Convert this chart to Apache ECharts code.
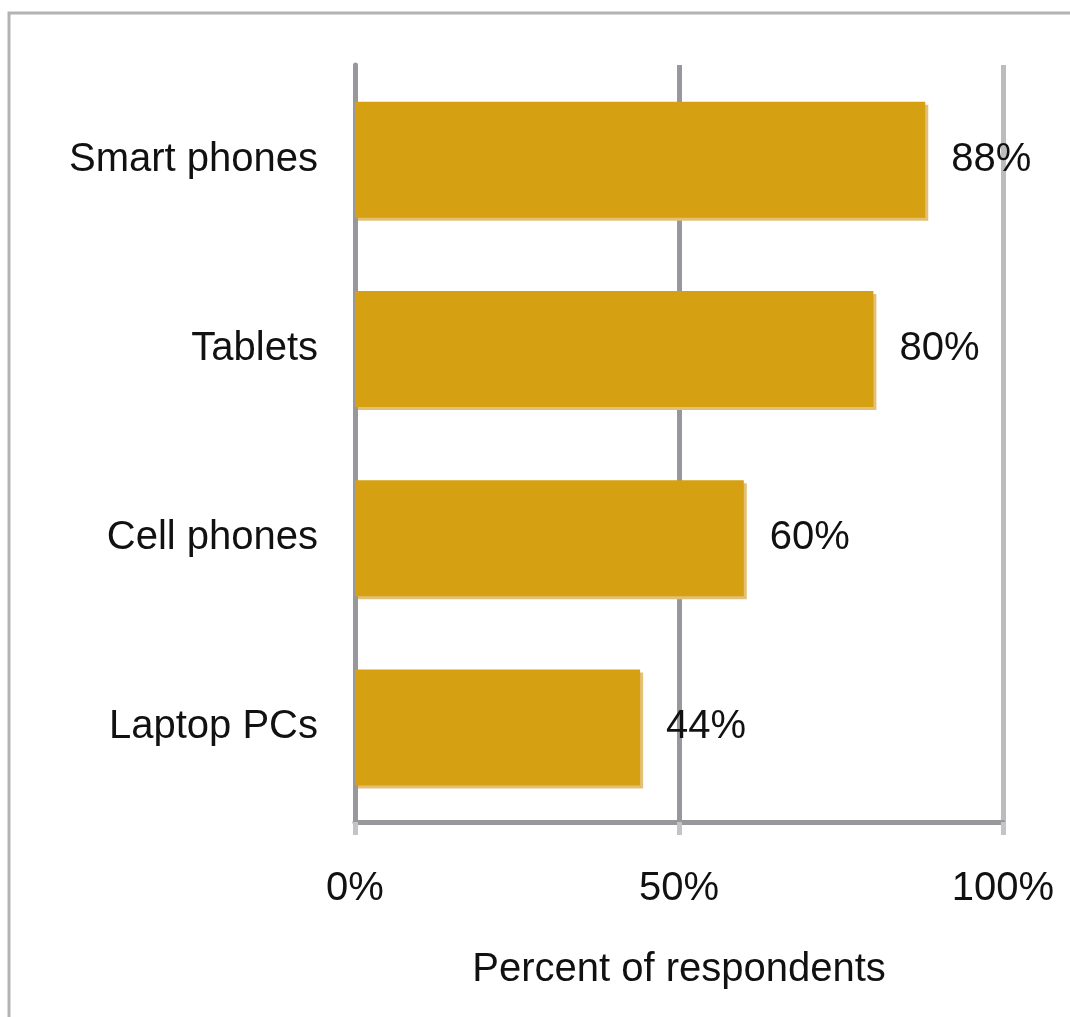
<!DOCTYPE html>
<html>
<head>
<meta charset="utf-8">
<script src="https://cdn.jsdelivr.net/npm/echarts@6/dist/echarts.min.js"></script>
<style>
  html, body { margin: 0; padding: 0; background: #fff; }
  #myChart { width: 1070px; height: 1017px; }
</style>
</head>
<body>
<div id="myChart"></div>
<script>
// 数据
var categories = ['Smart phones', 'Tablets', 'Cell phones', 'Laptop PCs'];
var percentValues = [88, 80, 60, 44];
var tickValues = [0, 50, 100];

var font = "'Liberation Sans', Arial, sans-serif";

var myChart = echarts.init(document.getElementById('myChart'));
myChart.setOption({
  backgroundColor: '#fff',
  animation: false,
  // outer frame (only top and left edges visible in the reference)
  graphic: [{
    type: 'rect',
    shape: { x: 9, y: 13, width: 1200, height: 1200 },
    style: { fill: 'none', stroke: '#b3b3b3', lineWidth: 3 },
    silent: true
  }],
  grid: {
    left: 355,
    right: 67,
    top: 65,
    bottom: 195
  },
  xAxis: {
    type: 'value',
    min: tickValues[0],
    max: tickValues[tickValues.length - 1],
    interval: 50,
    name: 'Percent of respondents',
    nameLocation: 'middle',
    nameGap: 128,
    nameTextStyle: { fontSize: 40, color: '#111', fontFamily: font },
    axisLine: { show: true, lineStyle: { color: '#98989c', width: 5 } },
    axisTick: { show: true, length: 13, lineStyle: { color: '#c4c4c4', width: 5 } },
    axisLabel: {
      margin: 47,
      fontSize: 40,
      color: '#111',
      fontFamily: font,
      formatter: function (v) { return v + '%'; }
    },
    splitLine: {
      show: true,
      lineStyle: { color: ['#98989c', '#98989c', '#bcbcbc'], width: 5 }
    }
  },
  yAxis: {
    type: 'category',
    data: categories,
    inverse: true,
    axisLine: { show: true, lineStyle: { color: '#98989c', width: 5 } },
    axisTick: { show: false },
    axisLabel: {
      margin: 37,
      fontSize: 40,
      color: '#111',
      fontFamily: font,
      padding: [4, 0, 0, 0]
    }
  },
  series: [{
    type: 'bar',
    data: percentValues,
    barWidth: 116,
    itemStyle: {
      color: '#d5a011',
      // light edge on right / bottom
      shadowColor: '#e3bf78',
      shadowOffsetX: 3,
      shadowOffsetY: 3,
      shadowBlur: 0
    },
    label: {
      show: true,
      position: 'right',
      distance: 26,
      fontSize: 40,
      color: '#111',
      fontFamily: font,
      padding: [5, 0, 0, 0],
      formatter: '{c}%'
    }
  }]
});
</script>
</body>
</html>
